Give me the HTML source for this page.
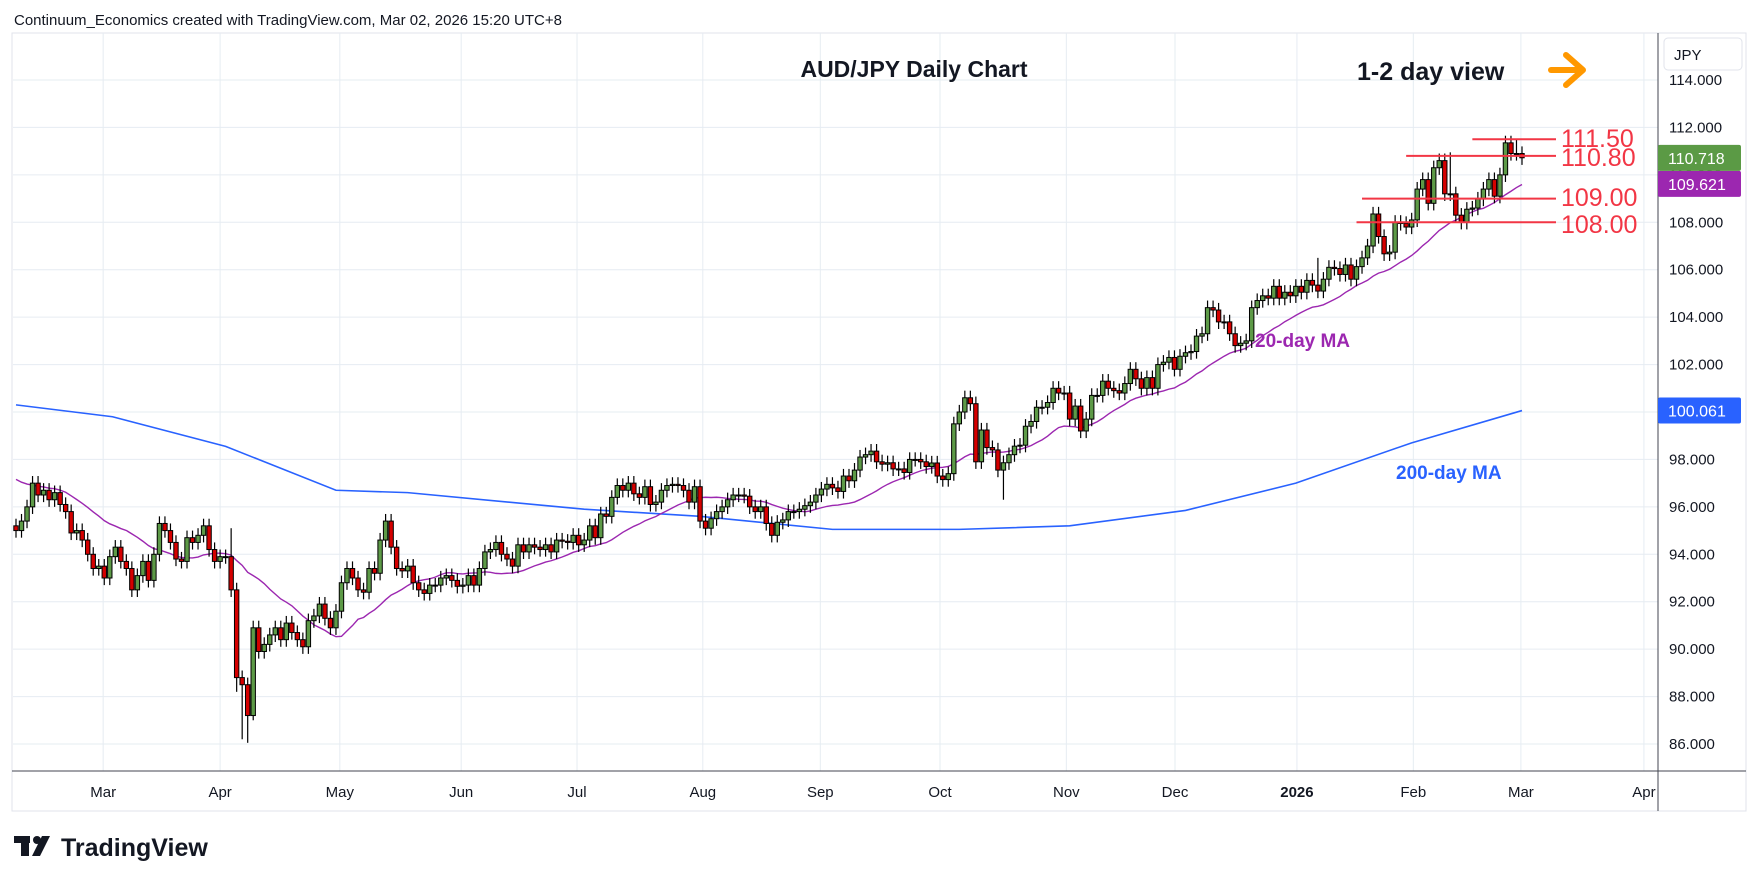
<!DOCTYPE html>
<html><head><meta charset="utf-8"><style>
html,body{margin:0;padding:0;background:#fff;width:1758px;height:886px;overflow:hidden}
svg{display:block;font-family:"Liberation Sans",sans-serif}
</style></head><body>
<svg id="chart" width="1758" height="886" viewBox="0 0 1758 886">
<text x="14" y="25" font-size="15" fill="#131722">Continuum_Economics created with TradingView.com, Mar 02, 2026 15:20 UTC+8</text>
<rect x="12" y="33" width="1734" height="778" fill="none" stroke="#e0e3eb"/>
<g id="grid"></g>
<g id="ma200"></g>
<g id="ma20"></g>
<g id="candles"></g>
<g id="levels"></g>
<line x1="1658" y1="33" x2="1658" y2="811" stroke="#434651"/>
<line x1="12" y1="771" x2="1746" y2="771" stroke="#434651"/>
<g id="yaxis"></g>
<g id="xaxis"></g>
<rect x="1664" y="38" width="78" height="32" rx="4" fill="#fff" stroke="#e0e3eb"/>
<text x="1674" y="60" font-size="15" fill="#131722">JPY</text>
<text x="914" y="77" font-size="23" font-weight="bold" text-anchor="middle" fill="#131722">AUD/JPY Daily Chart</text>
<text x="1357" y="80" font-size="25" font-weight="bold" fill="#131722">1-2 day view</text>
<g stroke="#ff9800" stroke-width="6" fill="none" stroke-linecap="round" stroke-linejoin="round">
<line x1="1551" y1="70" x2="1582" y2="70"/><polyline points="1566,55 1583,70 1566,85"/></g>
<text x="1255" y="347" font-size="19" font-weight="bold" fill="#9c27b0">20-day MA</text>
<text x="1396" y="479" font-size="19" font-weight="bold" fill="#2962ff">200-day MA</text>
<g>
<g fill="#131722">
<rect x="14" y="836" width="16" height="7"/><rect x="21" y="836" width="8" height="20"/>
<circle cx="37" cy="840" r="4"/><polygon points="42,836 50,836 40,856 32,856"/></g>
<text x="61" y="856" font-size="25" font-weight="bold" fill="#131722">TradingView</text></g>
</svg>
<script>
const closes = [95.0,95.4,96.0,97.0,96.5,96.7,96.3,96.6,96.1,95.8,94.9,95.0,94.6,94.0,93.4,93.5,93.0,93.9,94.3,93.7,93.4,92.5,93.1,93.7,92.9,94.0,95.3,95.0,94.5,93.8,93.7,94.7,94.5,94.8,95.2,94.2,93.7,93.9,93.9,92.5,88.8,88.5,87.2,90.9,89.9,90.2,90.6,90.9,90.4,91.1,90.7,90.4,90.1,91.2,91.4,91.9,91.3,90.9,91.6,92.8,
93.4,93.0,92.5,92.4,93.4,93.2,94.6,95.4,94.3,93.4,93.3,93.5,92.8,92.5,92.35,92.7,92.7,93.0,93.1,92.9,92.65,92.7,93.1,92.7,93.4,94.1,94.2,94.5,94.0,93.8,93.5,94.4,94.1,94.4,94.3,94.2,94.4,94.1,94.6,94.55,94.5,94.8,94.4,94.6,95.2,94.7,95.7,95.6,96.4,96.9,96.7,97.0,96.55,96.4,96.85,96.1,
96.2,96.7,96.9,96.95,96.9,96.7,96.2,96.85,95.4,95.1,95.5,95.8,96.0,96.3,96.5,96.5,96.45,96.0,95.8,96.0,95.3,94.8,95.35,95.45,95.8,95.8,95.9,96.05,96.2,96.5,96.75,96.95,96.8,96.65,97.3,97.1,97.55,98.1,98.2,98.35,97.9,97.8,97.86,97.6,97.6,97.45,98.0,98.0,97.9,97.7,97.85,97.3,97.15,97.4,99.5,100.0,100.6,100.35,97.9,
99.24,98.5,98.4,97.55,97.86,98.2,98.56,98.6,99.4,99.6,100.2,100.2,100.4,101.0,100.8,100.8,99.7,100.25,99.2,99.7,100.7,100.7,101.3,101.0,100.9,100.8,101.2,101.8,101.4,101.0,101.45,101.0,102.0,102.1,102.3,101.8,102.35,102.5,102.55,103.2,103.3,104.4,104.3,103.8,103.8,103.3,102.8,102.9,103.0,104.4,104.7,104.9,104.8,105.3,104.8,105.05,104.9,105.3,
105.05,105.55,105.35,105.1,105.6,106.1,106.05,105.8,106.2,105.6,106.13,106.5,107.0,108.35,107.4,106.67,106.74,108.0,107.95,107.8,108.1,109.4,109.8,108.8,110.3,110.6,109.2,109.2,108.3,108.0,108.55,108.6,108.98,109.4,109.8,109.1,110.0,111.35,110.9,110.9,110.72];
const firstOpen = 95.2;
const priorCloses = [97.8,97.6,97.9,97.5,97.2,97.4,97.0,97.3,97.6,97.9,98.1,97.8,97.5,97.2,97.0,96.8,96.6,96.2,95.8];
const lowOverrides = [[40,88.2],[41,86.2],[42,86.05],[43,87.0],[179,96.3]];
const highOverrides = [[39,95.1],[236,106.5],[260,110.95],[272,111.5]];
const ma200Idx = [0,17.5,38,58,71,103,124,148,171,191,212,232,253,273];
const ma200Val = [100.3,99.8,98.55,96.7,96.6,95.9,95.6,95.05,95.05,95.2,95.85,97.0,98.7,100.06];
const yTicks = [86,88,90,92,94,96,98,100,102,104,106,108,110,112,114];
const monthLabels = ["Mar","Apr","May","Jun","Jul","Aug","Sep","Oct","Nov","Dec","2026","Feb","Mar","Apr"];
const monthIdx = [15.8,37,58.7,80.7,101.7,124.5,145.8,167.5,190.4,210.1,232.2,253.3,272.8,295.1];
const levelVals = [111.5,110.8,109.0,108.0];
const levelLabels = ["111.50","110.80","109.00","108.00"];
const levelStartIdx = [264,252,244,243];
const lastPrice = 110.718, ma20Last = 109.621, ma200Last = 100.061;

const NS="http://www.w3.org/2000/svg";
const N=closes.length;
const step=(1522-16)/(N-1);
function xS(i){return 16+i*step;}
function yS(p){return 80+(114-p)*(664/28);}
function mk(tag,attrs,parent){const e=document.createElementNS(NS,tag);for(const k in attrs)e.setAttribute(k,attrs[k]);parent.appendChild(e);return e;}
const grid=document.getElementById('grid');
yTicks.forEach(t=>{const l=mk('line',{x1:13,x2:1658,y1:yS(t),y2:yS(t),stroke:'#e6ecf2'},grid);

});
monthIdx.forEach(m=>{const l=mk('line',{x1:xS(m),x2:xS(m),y1:33,y2:771,stroke:'#e6ecf2'},grid);

});
const ya=document.getElementById('yaxis');
yTicks.forEach(t=>{const tx=mk('text',{x:1669,y:yS(t)+5,'font-size':15,fill:'#131722'},ya);tx.textContent=t.toFixed(3);

});
const xa=document.getElementById('xaxis');
monthLabels.forEach((m,k)=>{const tx=mk('text',{x:xS(monthIdx[k]),y:797,'font-size':15,fill:'#131722','text-anchor':'middle','font-weight':m==='2026'?'bold':'normal'},xa);tx.textContent=m;

});
const pts200=ma200Idx.map((i,k)=>xS(i)+','+yS(ma200Val[k])).join(' ');
const p2=mk('polyline',{points:pts200,fill:'none',stroke:'#2962ff','stroke-width':1.6},document.getElementById('ma200'));


const all=priorCloses.concat(closes);const pts20=[];
for(let i=0;i<N;i++){let s=0;for(let j=i;j<i+20;j++)s+=all[j];pts20.push(xS(i)+','+yS(s/20));}
const p20=mk('polyline',{points:pts20.join(' '),fill:'none',stroke:'#9c27b0','stroke-width':1.4},document.getElementById('ma20'));


const cg=document.getElementById('candles');
const lowMap=new Map(lowOverrides),highMap=new Map(highOverrides);
for(let i=0;i<N;i++){
 const o=i===0?firstOpen:closes[i-1],c=closes[i];
 const hi=highMap.has(i)?highMap.get(i):Math.max(o,c)+0.3;
 const lo=lowMap.has(i)?lowMap.get(i):Math.min(o,c)-0.3;
 const x=xS(i);
 const g=mk('g',{},cg);
 
 
 mk('line',{x1:x,x2:x,y1:yS(hi),y2:yS(lo),stroke:'#000','stroke-width':1.2},g);
 const top=yS(Math.max(o,c)),bot=yS(Math.min(o,c));
 mk('rect',{x:x-2.2,y:top,width:4.4,height:Math.max(1,bot-top),fill:c>=o?'#5d9a47':'#d50000',stroke:'#000','stroke-width':1},g);
}
const lg=document.getElementById('levels');
const labelBase=[147,166,206,233];
levelVals.forEach((v,k)=>{
 const l=mk('line',{x1:xS(levelStartIdx[k]),x2:1556,y1:yS(v),y2:yS(v),stroke:'#f23645','stroke-width':2},lg);
 
 
 const t=mk('text',{x:1561,y:labelBase[k],'font-size':25,fill:'#f23645'},lg);t.textContent=levelLabels[k];
 
 
});
function tag(p,col){const yy=yS(p);
 const r=mk('rect',{x:1658,y:yy-13,width:83,height:26,fill:col,rx:2},ya);
 
 
 const t=mk('text',{x:1668,y:yy+6,'font-size':16,fill:'#fff'},ya);t.textContent=p.toFixed(3);
 
 }
tag(ma200Last,'#2962ff');
tag(ma20Last,'#9c27b0');
tag(lastPrice,'#5b9a45');
</script>
</body></html>
